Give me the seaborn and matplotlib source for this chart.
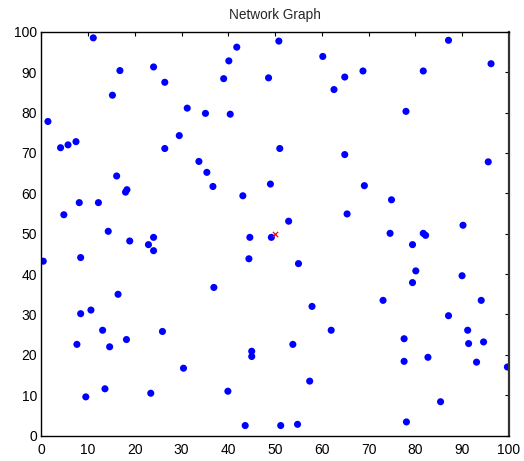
import matplotlib
matplotlib.use("Agg")
import matplotlib.pyplot as plt
import seaborn as sns
import pandas as pd

node_x = [11.1, 1.4, 16.8, 15.2, 4.1, 5.7, 7.4, 8.1, 12.2, 4.8, 14.3, 16.1, 18.0, 18.3,
          24.0, 26.4, 31.2, 35.1, 40.4, 29.5, 26.4, 33.7, 35.4, 36.7, 43.1, 39.0, 40.1,
          41.8, 48.6, 50.8, 51.0, 49.0, 60.2, 68.8, 64.9, 62.6, 81.7, 87.1, 96.2, 78.0,
          64.9, 95.6, 69.1, 74.9, 65.4, 52.9, 90.2,
          74.6, 81.7, 82.2, 49.2, 24.0, 44.6, 18.9, 22.9, 24.0, 0.4, 8.4, 44.4, 55.0,
          79.4, 80.1, 79.4, 90.0, 36.9, 16.4, 94.1, 73.1, 57.9, 8.4, 10.6, 87.1, 13.1,
          25.9, 62.0, 91.2, 18.2, 77.6, 7.6, 14.6, 53.8, 91.4, 94.6, 45.0, 45.0, 77.6,
          82.7, 93.1, 99.7, 30.4, 57.4, 13.6, 9.5, 23.4, 39.9, 85.4, 78.1, 43.6, 51.2, 54.8]
node_y = [98.5, 77.8, 90.4, 84.3, 71.3, 72.0, 72.8, 57.7, 57.7, 54.7, 50.6, 64.3, 60.3, 60.9,
          91.3, 87.5, 81.1, 79.8, 79.6, 74.3, 71.1, 67.9, 65.2, 61.7, 59.4, 88.4, 92.8,
          96.2, 88.6, 97.7, 71.1, 62.3, 93.9, 90.3, 88.8, 85.7, 90.3, 97.9, 92.1, 80.3,
          69.6, 67.8, 61.9, 58.4, 54.9, 53.1, 52.1,
          50.1, 50.1, 49.6, 49.1, 49.1, 49.1, 48.2, 47.3, 45.8, 43.2, 44.1, 43.8, 42.6,
          47.3, 40.8, 37.9, 39.6, 36.7, 35.0, 33.5, 33.5, 32.0, 30.2, 31.1, 29.7, 26.1,
          25.8, 26.1, 26.1, 23.8, 24.0, 22.6, 22.0, 22.6, 22.8, 23.2, 20.9, 19.6, 18.4,
          19.4, 18.2, 17.0, 16.7, 13.5, 11.6, 9.6, 10.5, 11.0, 8.4, 3.4, 2.5, 2.5, 2.8]
center_x = [50.0]
center_y = [50.0]
x_ticks = [0, 10, 20, 30, 40, 50, 60, 70, 80, 90, 100]
y_ticks = [0, 10, 20, 30, 40, 50, 60, 70, 80, 90, 100]

sns.set_style("white")
plt.rcParams['font.family'] = ['Liberation Sans', 'DejaVu Sans']

fig = plt.figure(figsize=(5.24, 4.61), dpi=100)
ax = fig.add_axes([0.079, 0.055, 0.892, 0.876])

nodes = pd.DataFrame({"x": node_x, "y": node_y})
center = pd.DataFrame({"x": center_x, "y": center_y})
sns.scatterplot(data=nodes, x="x", y="y", color="#0000ff", s=26, edgecolor="none", ax=ax)
sns.scatterplot(data=center, x="x", y="y", color="red", marker="x", s=14, linewidth=0.9, ax=ax)

ax.set_xlim(0, 100)
ax.set_ylim(0, 100)
ax.set_xticks(x_ticks)
ax.set_yticks(y_ticks)
ax.set_xlabel("")
ax.set_ylabel("")
ax.set_title("Network Graph", fontsize=9.8, pad=9)
ax.tick_params(direction="in", length=3, width=0.8, labelsize=10, top=True, right=True,
               labeltop=False, labelright=False, colors="black")
ax.tick_params(axis="x", pad=5)
ax.tick_params(axis="y", pad=3)
for s in ax.spines.values():
    s.set_visible(True)
    s.set_color("black")
    s.set_linewidth(1.0)
ax.spines["right"].set_linewidth(1.6)
ax.spines["right"].set_color("#333333")

fig.savefig("out.png", dpi=100)
